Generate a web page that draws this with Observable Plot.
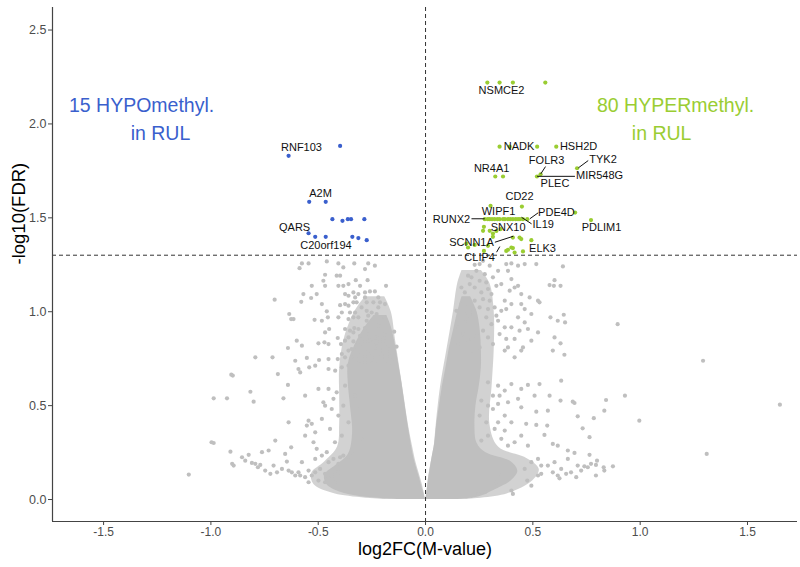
<!DOCTYPE html>
<html><head><meta charset="utf-8">
<script src="https://cdn.jsdelivr.net/npm/d3@7"></script>
<script src="https://cdn.jsdelivr.net/npm/@observablehq/plot@0.6"></script>
<style>body{margin:0;background:#fff}</style>
</head><body><div id="chart"></div>
<script>
// ---- scales / ticks ----
const xDomain = [-1.738, 1.733];
const yDomain = [-0.117, 2.62];
const xTicks = [-1.5, -1.0, -0.5, 0.0, 0.5, 1.0, 1.5];
const yTicks = [0.0, 0.5, 1.0, 1.5, 2.0, 2.5];
const fdrCut = 1.301;   // -log10(0.05)
const zeroFC = 0;

// ---- dense core of the non-significant cloud (edges) ----
const coreLeftY  = [0.000, 0.015, 0.04, 0.08, 0.13, 0.18, 0.24, 0.35, 0.50, 0.62, 0.72, 0.82, 0.92, 0.98];
const coreLeftX1 = [-0.12, -0.30, -0.40, -0.46, -0.47, -0.42, -0.36, -0.34, -0.35, -0.36, -0.36, -0.33, -0.28, -0.24];
const coreLeftX2 = [0.000, -0.004, -0.010, -0.020, -0.032, -0.045, -0.058, -0.075, -0.095, -0.11, -0.125, -0.14, -0.16, -0.18];
// semi-dense halo around it
const haloLeftY  = [0.00, 0.03, 0.08, 0.14, 0.20, 0.28, 0.40, 0.55, 0.70, 0.85, 1.00, 1.08];
const haloLeftX1 = [-0.18, -0.42, -0.52, -0.53, -0.47, -0.41, -0.40, -0.40, -0.40, -0.38, -0.33, -0.28];
const haloLeftX2 = [0.000, -0.005, -0.015, -0.030, -0.045, -0.060, -0.080, -0.100, -0.120, -0.140, -0.160, -0.19];

const coreRightY  = [0.000, 0.015, 0.05, 0.10, 0.15, 0.20, 0.25, 0.30, 0.40, 0.50, 0.60, 0.70, 0.80, 0.90, 1.00, 1.08];
const coreRightX1 = [0.000, 0.004, 0.008, 0.013, 0.020, 0.027, 0.035, 0.043, 0.052, 0.065, 0.078, 0.095, 0.110, 0.130, 0.150, 0.170];
const coreRightX2 = [0.140, 0.250, 0.320, 0.400, 0.430, 0.400, 0.280, 0.240, 0.230, 0.235, 0.250, 0.260, 0.260, 0.255, 0.240, 0.210];
const haloRightY  = [0.00, 0.03, 0.10, 0.16, 0.22, 0.28, 0.40, 0.60, 0.80, 1.00, 1.15, 1.22];
const haloRightX1 = [0.000, 0.005, 0.012, 0.020, 0.030, 0.040, 0.050, 0.070, 0.100, 0.130, 0.150, 0.170];
const haloRightX2 = [0.180, 0.380, 0.500, 0.530, 0.470, 0.340, 0.300, 0.310, 0.320, 0.320, 0.300, 0.260];

// ---- scattered non-significant points [log2FC, -log10 FDR] ----
const grayLeft = [
[-0.576,1.257],[-0.545,1.257],[-0.587,1.232],[-0.460,1.268],[-0.406,1.257],[-0.383,1.236],[-0.332,1.257],[-0.267,1.257],[-0.236,1.245],[-0.282,1.227],
[-0.468,1.197],[-0.414,1.192],[-0.398,1.192],[-0.476,1.165],[-0.530,1.138],[-0.468,1.138],[-0.406,1.138],[-0.383,1.138],[-0.359,1.147],[-0.325,1.168],
[-0.270,1.168],[-0.305,1.138],[-0.184,1.138],[-0.569,1.094],[-0.533,1.073],[-0.507,1.094],[-0.375,1.094],[-0.359,1.085],[-0.336,1.103],[-0.313,1.094],
[-0.282,1.103],[-0.259,1.108],[-0.236,1.108],[-0.220,1.076],[-0.282,1.076],[-0.703,1.064],[-0.579,1.053],[-0.483,1.041],[-0.398,1.035],[-0.375,1.041],
[-0.336,1.050],[-0.321,1.050],[-0.274,1.050],[-0.243,1.050],[-0.212,1.050],[-0.189,1.041],[-0.460,1.002],[-0.390,0.996],[-0.352,0.996],[-0.328,0.996],
[-0.274,1.005],[-0.251,0.996],[-0.228,0.988],[-0.192,0.970],[-0.635,0.988],[-0.626,0.961],[-0.615,0.961],[-0.517,0.957],[-0.483,0.952],[-0.455,0.970],
[-0.406,0.970],[-0.359,0.961],[-0.336,0.970],[-0.274,0.952],[-0.220,0.926],[-0.449,0.908],[-0.468,0.890],[-0.375,0.908],[-0.352,0.899],[-0.332,0.913],
[-0.313,0.908],[-0.282,0.913],[-0.251,0.908],[-0.220,0.881],[-0.192,0.878],[-0.146,0.894],[-0.600,0.846],[-0.576,0.819],[-0.641,0.807],[-0.499,0.832],
[-0.471,0.837],[-0.452,0.828],[-0.409,0.860],[-0.394,0.828],[-0.375,0.846],[-0.336,0.842],[-0.313,0.837],[-0.282,0.842],[-0.259,0.846],[-0.228,0.837],
[-0.197,0.846],[-0.174,0.819],[-0.135,0.814],[-0.793,0.757],[-0.713,0.757],[-0.607,0.739],[-0.553,0.754],[-0.496,0.743],[-0.452,0.748],[-0.409,0.748],
[-0.375,0.757],[-0.344,0.757],[-0.313,0.766],[-0.282,0.761],[-0.251,0.761],[-0.220,0.775],[-0.189,0.761],[-0.166,0.761],[-0.905,0.665],[-0.898,0.660],
[-0.688,0.668],[-0.592,0.695],[-0.584,0.677],[-0.542,0.704],[-0.514,0.713],[-0.452,0.695],[-0.421,0.686],[-0.390,0.704],[-0.359,0.713],
[-0.344,0.801],[-0.321,0.793],[-0.298,0.810],[-0.267,0.793],[-0.236,0.810],[-0.212,0.793],[-0.181,0.793],[-0.313,0.722],[-0.282,0.730],[-0.251,0.722],
[-0.220,0.730],[-0.189,0.722],[-0.158,0.730],[-0.390,0.775],[-0.359,0.793],[-0.267,0.881],[-0.236,0.863],[-0.305,0.872],[-0.336,0.890],[-0.359,0.863],
[-0.267,0.979],[-0.298,1.023],[-0.313,0.970],[-0.220,1.023],[-0.359,1.032],[-0.328,1.076],
[-1.103,0.133],[-0.997,0.305],[-0.987,0.301],[-0.987,0.539],[-0.925,0.539],[-0.816,0.574],[-0.801,0.521],[-0.909,0.255],[-0.901,0.190],[-0.894,0.181],
[-0.855,0.225],[-0.840,0.207],[-0.824,0.238],[-0.809,0.195],[-0.793,0.190],[-0.781,0.172],[-0.770,0.184],[-0.762,0.252],[-0.747,0.154],[-0.731,0.261],
[-0.723,0.137],[-0.708,0.181],[-0.700,0.314],[-0.692,0.145],[-0.669,0.163],[-0.662,0.539],[-0.654,0.243],[-0.646,0.202],[-0.638,0.411],[-0.638,0.154],
[-0.641,0.610],[-0.626,0.278],[-0.623,0.145],[-0.607,0.128],[-0.592,0.145],[-0.584,0.128],[-0.576,0.199],[-0.561,0.553],[-0.561,0.340],[-0.553,0.394],
[-0.545,0.420],[-0.530,0.403],[-0.522,0.305],[-0.514,0.358],[-0.507,0.270],[-0.499,0.589],[-0.491,0.163],[-0.483,0.429],[-0.476,0.518],[-0.468,0.500],
[-0.460,0.252],[-0.452,0.589],[-0.445,0.376],[-0.437,0.482],[-0.429,0.536],[-0.422,0.305],[-0.414,0.571],[-0.406,0.447],[-0.398,0.225],[-0.390,0.340],
[-0.383,0.500],[-0.375,0.606],[-0.359,0.411],[-0.344,0.252],[-0.328,0.553],[-0.313,0.482],[-0.297,0.323],
[-0.545,0.154],[-0.530,0.128],[-0.514,0.145],[-0.468,0.137],[-0.452,0.110],[-0.437,0.128],[-0.422,0.092],[-0.406,0.145],[-0.545,0.092],[-0.499,0.101],
[-0.468,0.092],[-0.561,0.119],[-0.514,0.216],[-0.483,0.234],[-0.452,0.199],[-0.429,0.216],[-0.406,0.190],[-0.383,0.234],[-0.359,0.207]
];
const grayRight = [
[0.632,0.633],[1.651,0.505],[0.929,0.553],[0.841,0.530],[0.996,0.420],[1.310,0.243],[0.833,0.473],[0.709,0.443],[0.784,0.433],[0.732,0.379],
[0.764,0.332],[0.686,0.521],[0.694,0.514],[0.629,0.527],[0.578,0.553],[0.570,0.473],[0.516,0.468],[0.508,0.553],[0.531,0.615],[0.477,0.610],
[0.446,0.491],[0.469,0.403],[0.516,0.397],[0.567,0.394],[0.554,0.344],[0.593,0.296],[0.616,0.287],[0.663,0.261],[0.694,0.248],[0.764,0.238],
[0.663,0.216],[0.709,0.181],[0.740,0.177],[0.771,0.190],[0.794,0.184],[0.799,0.207],[0.830,0.172],[0.873,0.177],[0.833,0.154],[0.794,0.128],
[0.756,0.172],[0.702,0.119],[0.655,0.137],[0.616,0.128],[0.624,0.113],[0.593,0.145],[0.570,0.181],[0.539,0.137],[0.524,0.128],[0.493,0.074],
[0.474,0.101],[0.400,0.048],[0.407,0.030],[0.353,0.128],[0.330,0.092],[0.276,0.039],[0.245,0.030],[0.214,0.021],[0.415,0.305],[0.384,0.287],
[0.353,0.323],[0.446,0.340],[0.477,0.287],[0.369,0.447],[0.400,0.411],[0.338,0.411],[0.314,0.482],[0.384,0.518],[0.431,0.536],[0.345,0.553],
[0.291,0.624],[0.338,0.606],[0.369,0.580],[0.314,0.553],[0.260,0.527],[0.291,0.500],[0.338,0.509],[0.252,0.447],[0.283,0.411],[0.322,0.376],
[0.369,0.367],[0.291,0.340],[0.260,0.314],[0.400,0.615],[0.446,0.589],
[0.493,0.199],[0.524,0.216],[0.539,0.181],[0.462,0.163],[0.601,0.199],[0.632,0.163],[0.678,0.145],[0.725,0.154],
[1.293,0.739],[0.895,0.934],
[0.640,1.241],[0.516,1.254],[0.462,1.254],[0.431,1.245],[0.400,1.257],[0.376,1.254],[0.578,1.142],[0.598,1.138],[0.629,1.138],[0.601,1.168],
[0.524,1.059],[0.531,1.050],[0.485,1.076],[0.446,1.094],[0.644,0.984],[0.616,0.952],[0.650,0.943],[0.582,0.970],[0.601,0.863],[0.629,0.832],
[0.593,0.793],[0.647,0.771],[0.493,0.988],[0.462,1.014],[0.477,0.908],[0.438,0.899],[0.524,0.890],[0.415,0.855],[0.454,0.810],[0.415,0.757],
[0.446,0.793],[0.493,0.846],[0.369,0.793],[0.353,1.005],[0.369,1.059],[0.392,1.112],[0.353,1.147],[0.314,1.183],[0.276,1.200],[0.237,1.218],
[0.198,1.192],[0.206,1.147],[0.183,1.103],[0.167,1.129],[0.338,1.218],[0.400,1.174],[0.307,1.094],[0.431,1.138],
[0.214,1.183],[0.252,1.165],[0.283,1.156],[0.229,1.129],[0.260,1.103],[0.291,1.121],[0.330,1.138],[0.268,1.067],[0.299,1.059],[0.229,1.059],
[0.198,1.041],[0.252,1.023],[0.291,1.014],[0.322,1.023],[0.221,0.996],[0.183,0.988],[0.376,1.014],[0.400,1.041],[0.330,0.979],[0.283,0.970],
[0.252,1.254],[0.299,1.245],[0.268,1.271],[0.229,1.250],
[0.152,0.917],[0.175,0.881],[0.198,0.846],[0.152,0.828],[0.183,0.943],[0.214,0.908],[0.237,0.872],[0.268,0.899],[0.291,0.863],[0.314,0.828],
[0.345,0.881],[0.376,0.855],[0.400,0.917],[0.214,0.793],[0.252,0.810],[0.384,0.810],[0.144,1.005],[0.167,1.041],[0.206,0.979],[0.384,1.218],
[0.415,1.129],[0.446,1.041],[0.462,0.943],[0.431,0.970],[0.369,0.917],[0.338,0.952],[0.307,0.934]
];

// ---- significant CpGs ----
const hypoPoints = [
[-0.638,1.830],[-0.398,1.883],[-0.542,1.585],[-0.465,1.585],[-0.434,1.493],[-0.387,1.484],[-0.362,1.493],[-0.347,1.493],
[-0.285,1.493],[-0.545,1.418],[-0.514,1.399],[-0.465,1.399],[-0.341,1.399],[-0.313,1.392],[-0.274,1.381]
];
const hyperPoints = [
[0.288,2.220],[0.345,2.220],[0.407,2.220],[0.558,2.220],
[0.345,1.879],[0.392,1.879],[0.520,1.879],[0.609,1.879],
[0.706,1.764],[0.536,1.732],[0.325,1.720],[0.361,1.720],[0.519,1.720],
[0.449,1.560],[0.303,1.564],
[0.276,1.493],[0.290,1.493],[0.299,1.493],[0.310,1.493],[0.322,1.493],[0.335,1.493],[0.345,1.493],[0.361,1.493],[0.370,1.493],
[0.384,1.493],[0.395,1.493],[0.407,1.493],[0.420,1.493],[0.431,1.493],[0.440,1.493],[0.454,1.493],[0.474,1.493],
[0.697,1.528],[0.771,1.488],
[0.272,1.452],[0.299,1.431],[0.314,1.416],[0.314,1.399],[0.407,1.395],[0.438,1.395],[0.268,1.431],[0.190,1.363],[0.198,1.342],
[0.291,1.351],[0.272,1.324],[0.376,1.324],[0.400,1.342],[0.415,1.315],[0.454,1.321],[0.493,1.381],[0.446,1.387],[0.384,1.330],
[0.407,1.339],[0.229,1.356],[0.330,1.430],[0.350,1.440]
];

// ---- gene labels ----
const geneNames = ["RNF103","A2M","QARS","C20orf194","NSMCE2","NADK","HSH2D","NR4A1","FOLR3","TYK2","MIR548G","PLEC",
  "CD22","WIPF1","RUNX2","PDE4D","IL19","PDLIM1","SNX10","SCNN1A","ELK3","CLIP4"];
const geneX = [-0.578,-0.489,-0.610,-0.464,0.354,0.436,0.713,0.308,0.564,0.827,0.811,0.603,
  0.438,0.340,0.121,0.610,0.548,0.820,0.385,0.214,0.545,0.252];
const geneY = [1.876,1.631,1.450,1.352,2.178,1.881,1.881,1.763,1.805,1.810,1.725,1.684,
  1.615,1.535,1.489,1.530,1.463,1.447,1.447,1.370,1.338,1.287];

// ---- label connectors [x1,y1,x2,y2] ----
const connectors = [
[0.712,1.766,0.758,1.805],[0.537,1.734,0.559,1.773],[0.520,1.721,0.696,1.721],[0.214,1.495,0.276,1.495],
[0.486,1.495,0.525,1.527],[0.447,1.503,0.494,1.468],[0.323,1.370,0.409,1.402],[0.331,1.317,0.346,1.347]
];

// ---- annotations ----
const annoText = ["15 HYPOmethyl.","in RUL","80 HYPERmethyl.","in RUL"];
const annoX = [-1.323,-1.235,1.165,1.100];
const annoY = [2.098,1.949,2.098,1.949];
const annoGroup = ["hypo","hypo","hyper","hyper"];

const GRAY = "#bfbfbf", BLUE = "#3a5fcd", GREEN = "#9acd32";
const pts = a => a.map(([x, y]) => ({x, y}));
const band = (Y, X1, X2) => Y.map((y, i) => ({y, x1: X1[i], x2: X2[i]}));
const labels = geneNames.map((t, i) => ({t, x: geneX[i], y: geneY[i]}));
const links = connectors.map(([x1, y1, x2, y2]) => ({x1, y1, x2, y2}));
const annos = annoText.map((t, i) => ({t, x: annoX[i], y: annoY[i], g: annoGroup[i]}));

const chart = Plot.plot({
  width: 800, height: 567,
  marginLeft: 52, marginRight: 3, marginTop: 7, marginBottom: 46,
  x: {domain: xDomain, label: null},
  y: {domain: yDomain, label: null},
  style: {fontFamily: "'Liberation Sans', Arial, sans-serif", background: "white"},
  marks: [
    Plot.areaX(band(haloLeftY, haloLeftX1, haloLeftX2), {y: "y", x1: "x1", x2: "x2", fill: GRAY, fillOpacity: 0.7, curve: "catmull-rom"}),
    Plot.areaX(band(haloRightY, haloRightX1, haloRightX2), {y: "y", x1: "x1", x2: "x2", fill: GRAY, fillOpacity: 0.7, curve: "catmull-rom"}),
    Plot.areaX(band(coreLeftY, coreLeftX1, coreLeftX2), {y: "y", x1: "x1", x2: "x2", fill: GRAY, curve: "catmull-rom"}),
    Plot.areaX(band(coreRightY, coreRightX1, coreRightX2), {y: "y", x1: "x1", x2: "x2", fill: GRAY, curve: "catmull-rom"}),
    Plot.dot(pts(grayLeft), {x: "x", y: "y", r: 2.1, fill: GRAY}),
    Plot.dot(pts(grayRight), {x: "x", y: "y", r: 2.1, fill: GRAY}),
    Plot.ruleY([fdrCut], {stroke: "#333", strokeWidth: 1, strokeDasharray: "4,3"}),
    Plot.ruleX([zeroFC], {stroke: "#333", strokeWidth: 1, strokeDasharray: "4,3"}),
    Plot.dot(pts(hypoPoints), {x: "x", y: "y", r: 2.1, fill: BLUE}),
    Plot.dot(pts(hyperPoints), {x: "x", y: "y", r: 2.1, fill: GREEN}),
    Plot.link(links, {x1: "x1", y1: "y1", x2: "x2", y2: "y2", stroke: "#111", strokeWidth: 1}),
    Plot.text(labels, {x: "x", y: "y", text: "t", fontSize: 11, fill: "#111"}),
    Plot.text(annos, {x: "x", y: "y", text: "t", fontSize: 19.5, fill: d => d.g === "hypo" ? BLUE : GREEN}),
    Plot.ruleX([xDomain[0]], {stroke: "#444", strokeWidth: 1.2}),
    Plot.ruleY([yDomain[0]], {stroke: "#444", strokeWidth: 1.2}),
    Plot.axisX({ticks: xTicks, tickFormat: d => d.toFixed(1), tickSize: 4, tickPadding: 1.5,
      fontSize: 12, label: null, fill: "#4d4d4d", stroke: "#444"}),
    Plot.axisY({ticks: yTicks, tickFormat: d => d.toFixed(1), tickSize: 4, tickPadding: 2,
      fontSize: 12.5, label: null, fill: "#4d4d4d", stroke: "#444"}),
    Plot.text(["log2FC(M-value)"], {frameAnchor: "bottom", dy: 33, fontSize: 18, fill: "black"}),
    Plot.text(["-log10(FDR)"], {frameAnchor: "left", dx: -33, rotate: -90, fontSize: 18.5, fill: "black"})
  ]
});
document.getElementById("chart").appendChild(chart);
</script>
</body></html>
